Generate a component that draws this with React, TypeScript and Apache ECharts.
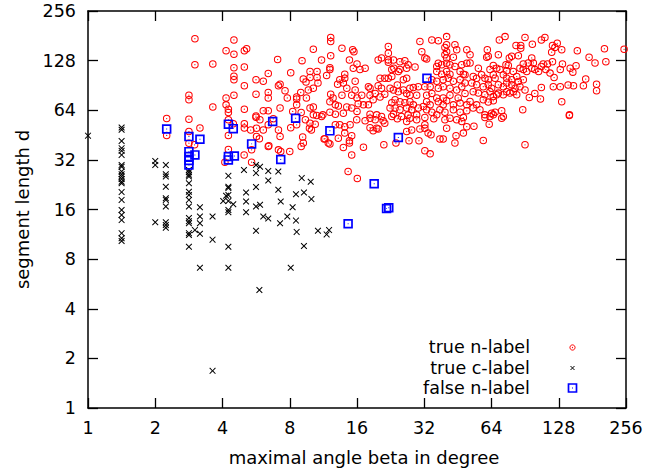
import React, { useEffect, useRef } from "react";
import * as echarts from "echarts";

// ---- tick labels ----
const tickValues = [1, 2, 4, 8, 16, 32, 64, 128, 256];

// ---- series: [maximal angle beta (degree), segment length d] ----
const trueNLabel: [number, number][] = [
  // left / upper-left part
  [3.01,174],[4.5,171],[4.15,147],[4.5,140],[5.01,147],[5.13,151],[3.01,121],[3.62,122],[4.5,116],[5.01,117],
  [7.06,130],[9.08,128],[4.5,103],[4.5,98],[5.01,90],[5.65,98],[6.09,96],[6.41,107],[7.24,92],[7.12,90],
  [7.62,84],[8.08,108],[9.2,99],[9.46,95],[2.83,79],[2.83,74],[3.62,67],[4.15,76],[4.15,69],[4.25,65],
  [4.25,62],[4.5,79],[5.01,65],[5.65,80],[6.41,82],[6.41,76],[7.24,66],[7.8,76],[8.59,77],[8.59,75],
  [8.96,82],[9.5,76],[8.25,63],[5.65,59],[6.09,63.5],[6.41,63.5],[2.25,57],[2.83,56.5],[8.59,69],[9.69,85],
  [2.25,45],[3.0,39.5],[3.17,50],[2.83,40.4],[2.83,47.5],[4.25,56],[4.25,45],[4.25,37],[4.1,31],[4.47,53],
  [5.01,53],[5.01,50],[5.35,48.5],[5.68,49.8],[5.65,58],[9.0,62],[9.14,44],[9.2,40.5],[11.5,43],[11.9,40.5],
  [7.12,48.5],[7.24,44.4],[7.12,36.8],[7.29,36],[8.0,36],[6.45,39],[5.4,36.8],[5.0,34.3],[5.4,31],[5.68,44.4],
  [10.0,48.5],[5.85,43],[6.09,48.6],[6.41,52.2],[5.88,56],[6.41,38.6],[6.75,56.8],[8.08,50.2],[9.0,38.6],[9.4,56],
  [8.59,52.2],[9.8,49.8],
  // middle part
  [12.2,177],[12.2,167],[10.2,150],[13.7,152],[15.3,149],[15.5,145],[11.1,129],[12.2,137],[14.8,129],[16,122],
  [17.4,115],[15.4,115],[16.5,113],[12.1,116],[12.1,113],[14.1,106],[9.86,110],[10.6,110],[9.86,101],[10.6,101],
  [11.7,104],[13.4,98],[14.1,100],[13.1,92],[13.9,93.5],[10.7,93.5],[10.2,87],[15.7,96],[14.4,87],[15.7,85],
  [12.2,80],[12.5,76],[13.7,79],[15.15,79],[16,76],[16.8,79],[10.2,67],[9.86,66],[12.1,72],[12.8,69],
  [13.2,68],[14.4,67],[15.15,66],[16.2,70],[17.1,69],[18,89],[18.3,87],[19.9,90],[20.6,87],[18.3,79],
  [19.3,81],[20.3,77],[21.3,80],[18,69],[18.9,74],[19.9,129],[20.6,133],[22.1,156],[22.1,142],[22.1,129],
  [22.1,125],[20.3,100],[21.3,100],[23.3,129],[23.4,115],[22.9,113],[24.9,126],[26.2,128],[26.7,115],[27.1,121],
  [29.1,117],[24.9,113],[24.5,110],[22.1,100],[22.9,102.5],[25.8,98],[26.7,100],[24.25,91],[27.6,87],[28.6,88],
  [30.1,89],[22.5,87],[23.3,85],[24.5,83],[25.8,85],[26.7,81],[27.6,79],[29.6,79],[22.9,71],[23.7,74],
  [24.9,72],[26.2,71],[27.6,72],[28.6,69],[22.5,66],[23.7,66],[24.9,64.4],[26.7,66],[28.1,64.4],[30.1,66],
  [31.7,67.4],[30.6,167],[34.6,171],[37,169],[40.3,179],[31.2,145],[32.2,133],[32.8,131],[39.6,154],[40.3,160],
  [43.9,160],[44.7,149],[40.3,145],[39.6,139],[40.3,133],[49.6,149],[43.2,134],[36.4,118],[37,123.6],[38.3,121],
  [40.3,123.6],[41.7,121],[43.9,118],[47.1,121],[49.6,123.6],[36.4,110],[38.3,106],[40.3,110],[41.7,106],[46.3,110],
  [47.9,106],[48.7,105],[34.6,98],[36.4,96],[38.9,98],[41,100],[43.2,96],[46.3,98],[48.7,93.5],[32.2,89],
  [34,89],[37,87],[38.9,89],[41.7,87],[44.7,85],[47.1,89],[32.8,79],[34.6,81],[36.4,76],[38.9,76],
  [41.7,79],[45.4,76],[48.7,81],[32.8,72],[34,69],[37,72],[38.9,69],[40.3,73],[43.2,69],[46.3,70.7],
  [49.6,69],[32.8,64.4],[34.6,62.3],[37.6,64.4],[39.6,62.3],[43.2,64.4],[46.3,62.3],[49.6,63.5],[10.2,60],[10.56,59.4],
  [11.1,58.6],[12.1,62.3],[12.8,60.6],[13.9,61.4],[16,63],[18.3,60.6],[19.6,60],[20.6,58.6],[23.3,60.6],[27.1,60],
  [29.6,60],[36.4,60],
  // middle, lower part
  [9.86,53.4],[10.4,52.7],[11.25,60],[12.8,52.2],[13.4,52.2],[14.1,50.9],[14.9,52.2],[11.4,42.9],[12.1,39.9],[13.2,43.3],
  [14.1,46.5],[14.8,41.8],[15.15,44.9],[13.9,38],[14.8,40.5],[15.15,34.3],[17.1,38.2],[14.6,27.2],[16.05,24.7],[15.95,56],
  [17.4,55.2],[18.3,57.3],[19.3,56],[19.6,49.8],[18.3,50.2],[18.9,48],[19.9,49.3],[20.95,55.2],[21.3,53.4],[21.1,39.5],
  [22.9,58.6],[24.25,56.8],[25.3,58.6],[26.7,54.7],[27.6,57.3],[29.6,56],[32.2,57.8],[35.3,56.8],[23.9,40.5],[26.7,47.5],
  [28.1,48.6],[30.6,49.3],[32.2,49.8],[32.2,52.2],[33.3,46.5],[34.3,45.4],[27.35,41.8],[30.3,41.8],[32.2,36.3],[34,34.8],
  [37.6,42.9],[38.9,42.9],[40.3,49.8],[44.4,44.9],[43.9,40.5],[47.9,46.5],[49.6,50.9],[39.6,56],[41.7,57.3],[44.7,56],
  [47.1,54.7],[47.9,57.8],
  // right part
  [69.4,171],[73.6,179],[90.4,177],[107,171],[111,177],[82.4,158],[86.5,158],[86.5,152],[97.5,161],[120,158],
  [126,163],[123,154],[132,149],[119,144],[155,147],[175,134],[205,151],[186,124],[208,126],[251,150],
  [61.3,149],[60.9,134],[61.9,136],[68.7,139],[76.9,133],[78.8,136],[84.4,137],[74.3,121],[76.1,119.5],[96.9,133],
  [98.5,124],[88.8,122],[93.5,124],[109,122],[114,122],[120,126],[133,122],[130,113],[144,115],[148,109],
  [153,119],[51.3,139],[51.3,124],[55.9,115],[65.2,119.5],[63,113],[67.5,115],[69.8,113],[74.9,111],[80.1,110],
  [85.8,115],[88.8,113],[92,110],[96.9,115],[100,113],[104,110],[107,118],[112,113],[117,107.5],[122,101],
  [169,99],[53,102.5],[54.9,100],[57.8,105],[59.8,100],[61.9,98],[65.2,105],[66.4,100],[72.3,105],[74.9,100],
  [78.8,98],[83,102.5],[84.4,95.6],[88.8,98],[52.2,93.5],[54.9,91.3],[58.8,89],[61.9,91.3],[64.1,87],[68.7,91.3],
  [72.3,89],[74.9,93.5],[78.8,91.3],[81.6,87],[85.8,89],[90.4,85],[80.1,83],[107,88],[121,89],[130,89],
  [141,91],[149,90],[165,90],[189,92],[189,84],[100,81],[94.5,76.4],[106,75],[132,72],[143,60],
  [88.3,64.4],[53,83],[55.9,81.3],[59.8,79.4],[63,83],[65.2,77.5],[68.7,81.3],[72.3,79.4],[74.9,83],[77.4,81.3],
  [83,79.4],[51.3,72.3],[54.9,69],[58.8,74],[61.9,71.7],[65.2,73],[67.5,79.4],[53,66],[56.8,64.4],[59.8,60],
  [64.1,61.4],[66.4,62.3],[71.1,63.5],[72.3,58.6],[63,58.6],[59.8,57.8],[65.2,60],[71.1,57.3],[53.4,51.2],[62.5,52.7],
  [58.8,41.9],[90.4,39.5],[142.7,59.4],
];

const trueCLabel: [number, number][] = [
  [1.0,44.9],
  [1.414,50.3],[1.414,48.7],[1.414,41.7],[1.414,37.7],[1.414,36.3],[1.414,34.3],[1.414,29.8],[1.414,29.1],[1.414,27.2],
  [1.414,26.2],[1.414,25.4],[1.414,24.5],[1.414,23.6],[1.414,23.1],[1.414,20.4],[1.414,18.3],[1.414,15.9],[1.414,14.8],
  [1.414,13.8],[1.414,11.5],[1.414,10.7],[1.414,10.3],
  [2,31.5],[2,29.8],[2,13.4],
  [2.23,29.8],[2.23,26.2],[2.23,25.4],[2.23,22],[2.23,18.7],[2.23,18.3],[2.23,16.7],[2.23,13.4],[2.23,12.9],[2.23,12.4],
  [2.83,27.8],[2.83,26.9],[2.83,26],[2.83,25.4],[2.83,23.1],[2.83,20.5],[2.83,19.6],[2.83,18.3],[2.83,16.7],[2.83,14.2],
  [2.83,13.6],[2.83,13.2],[2.83,11.5],[2.83,11.2],[2.83,9.5],
  [3.17,16.5],[3.17,14.5],[3.17,13.2],[3.17,11.4],[3.01,12],[3.17,7.1],
  [3.61,14.5],[3.61,10.5],[3.61,1.68],
  [4.25,25.6],[4.25,22],[4.25,21.6],[4.25,19.6],[4.25,18],[4.25,15.9],[4.25,15.4],[4.25,9.5],[4.25,7.1],[4.03,18],
  [4.15,19.4],[4.47,17.2],
  [4.99,27.8],[5.65,29.8],[5.89,29.1],[5.65,26.6],[6.41,27.4],[7.11,27.2],[6.41,24],[9.05,24.8],[9.93,23.6],[5.1,20.3],
  [5.65,21.9],[7.11,21.1],[8.53,19.8],[9.26,20.3],[10,18.5],[5.1,17.9],[5.65,16.7],[5.89,17.1],[7.29,17.9],[8.24,16.5],
  [5.1,15.4],[6.09,14.5],[6.41,14.1],[7.8,14.5],[8.53,13.7],[7.24,13.2],[5.65,11.9],[8.59,11.7],[10.7,11.9],[12,12],
  [11.7,11.3],[9.26,9.6],[8.08,7.1],[5.85,5.2],
];

const falseNLabel: [number, number][] = [
  [2.25,49.3],[2.83,44.3],[3.17,42.7],[2.83,35.9],[2.83,33.5],[2.83,31.7],[2.83,29.8],[3.01,34.3],[4.25,52.7],[4.47,49.5],
  [4.25,33.5],[4.25,32],[4.52,33.8],[5.4,40],[6.71,54.7],[7.29,32.2],[8.5,57.3],[12.1,48],[32.9,100],[24.5,43.7],
  [19.1,22.9],[21.7,16.2],[22.2,16.4],[14.6,13.1],
];

const seriesNames = ["true n-label", "true c-label", "false n-label"];
const xTitle = "maximal angle beta in degree";
const yTitle = "segment length d";

const FONT = '"DejaVu Sans", Verdana, sans-serif';
const RED = "#ff0000";
const BLACK = "#000000";
const BLUE = "#0000ff";

const ringSymbol =
  "path://M10,0A10,10,0,1,1,10,20A10,10,0,1,1,10,0ZM10,2.7A7.3,7.3,0,1,0,10,17.3A7.3,7.3,0,1,0,10,2.7ZM10,8.3A1.7,1.7,0,1,1,10,11.7A1.7,1.7,0,1,1,10,8.3Z";
const squareSymbol =
  "path://M0,0L20,0L20,20L0,20ZM3.6,3.6L3.6,16.4L16.4,16.4L16.4,3.6ZM9,9L11,9L11,11L9,11Z";
const crossSymbol =
  "path://M0,1.1L1.1,0L5,3.9L8.9,0L10,1.1L6.1,5L10,8.9L8.9,10L5,6.1L1.1,10L0,8.9L3.9,5Z";

const fmt = (v: number) => String(Math.round(v));

function logAxis(position: string, showLabel: boolean, extra: any = {}) {
  return {
    type: "log",
    logBase: 2,
    min: tickValues[0],
    max: tickValues[tickValues.length - 1],
    interval: 1,
    position,
    splitLine: { show: false },
    axisLine: { show: true, lineStyle: { color: BLACK, width: 1.5 } },
    axisTick: { show: true, inside: true, length: 10, lineStyle: { color: BLACK, width: 1.3 } },
    axisLabel: { show: showLabel, color: BLACK, fontSize: 17.5, fontFamily: FONT, formatter: fmt },
    ...extra,
  };
}

export default function App() {
  const ref = useRef<HTMLDivElement>(null);
  useEffect(() => {
    if (!ref.current) return;
    const chart = echarts.init(ref.current, null, { renderer: "svg" });
    const option: any = {
      animation: false,
      backgroundColor: "#ffffff",
      grid: { left: 88, right: 35, top: 11, bottom: 64, containLabel: false, outerBoundsMode: "none" },
      xAxis: [
        logAxis("bottom", true, {
          name: xTitle,
          nameLocation: "middle",
          nameGap: 40,
          nameTextStyle: { color: BLACK, fontSize: 18, fontFamily: FONT, padding: [0, 0, 0, 14] },
          axisLabel: { show: true, color: BLACK, fontSize: 17.5, fontFamily: FONT, margin: 11, formatter: fmt },
        }),
        logAxis("top", false),
      ],
      yAxis: [
        logAxis("left", true, {
          name: yTitle,
          nameLocation: "middle",
          nameGap: 55,
          nameTextStyle: { color: BLACK, fontSize: 18, fontFamily: FONT },
          axisLabel: { show: true, color: BLACK, fontSize: 17.5, fontFamily: FONT, margin: 12, formatter: fmt },
        }),
        logAxis("right", false),
      ],
      series: [
        {
          name: seriesNames[0], type: "scatter", xAxisIndex: 0, yAxisIndex: 0,
          data: trueNLabel, symbol: ringSymbol, symbolSize: 7.5,
          itemStyle: { color: RED, opacity: 1 }, z: 2,
        },
        {
          name: seriesNames[1], type: "scatter", xAxisIndex: 0, yAxisIndex: 0,
          data: trueCLabel, symbol: crossSymbol, symbolSize: 6.5,
          itemStyle: { color: BLACK, opacity: 1 }, z: 3,
        },
        {
          name: seriesNames[2], type: "scatter", xAxisIndex: 0, yAxisIndex: 0,
          data: falseNLabel, symbol: squareSymbol, symbolSize: 9.5,
          itemStyle: { color: BLUE, opacity: 1 }, z: 4,
        },
      ],
      graphic: [
        { type: "text", x: 530, y: 347, style: { text: seriesNames[0], align: "right", verticalAlign: "middle", fontSize: 17.5, fontFamily: FONT, fill: BLACK } },
        { type: "text", x: 530, y: 368, style: { text: seriesNames[1], align: "right", verticalAlign: "middle", fontSize: 17.5, fontFamily: FONT, fill: BLACK } },
        { type: "text", x: 530, y: 388, style: { text: seriesNames[2], align: "right", verticalAlign: "middle", fontSize: 17.5, fontFamily: FONT, fill: BLACK } },
        { type: "circle", shape: { cx: 572.5, cy: 347.5, r: 2.6 }, style: { fill: "none", stroke: RED, lineWidth: 1 } },
        { type: "circle", shape: { cx: 572.5, cy: 347.5, r: 0.6 }, style: { fill: RED } },
        { type: "line", shape: { x1: 570.5, y1: 366, x2: 574.5, y2: 370 }, style: { stroke: BLACK, lineWidth: 1 } },
        { type: "line", shape: { x1: 574.5, y1: 366, x2: 570.5, y2: 370 }, style: { stroke: BLACK, lineWidth: 1 } },
        { type: "rect", shape: { x: 568.5, y: 384, width: 8, height: 8 }, style: { fill: "none", stroke: BLUE, lineWidth: 1.7 } },
        { type: "rect", shape: { x: 572, y: 387.5, width: 1, height: 1 }, style: { fill: BLUE } },
      ],
    };
    chart.setOption(option);
    return () => chart.dispose();
  }, []);
  return (
    <div
      ref={ref}
      style={{ position: "absolute", left: 0, top: 0, width: 661, height: 472, background: "#fff" }}
    />
  );
}
